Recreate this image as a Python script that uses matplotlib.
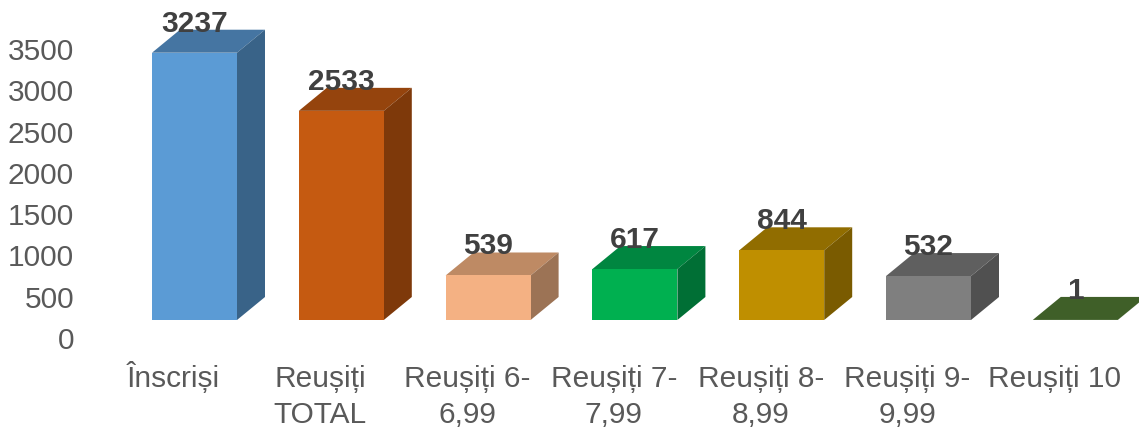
import matplotlib
matplotlib.use("Agg")
import matplotlib.pyplot as plt
from matplotlib.patches import Polygon
from matplotlib.transforms import Affine2D

plt.rcParams['font.family'] = ['Liberation Sans', 'DejaVu Sans']

categories = ["Înscriși", "Reușiți\nTOTAL", "Reușiți 6-\n6,99", "Reușiți 7-\n7,99",
              "Reușiți 8-\n8,99", "Reușiți 9-\n9,99", "Reușiți 10"]
values = [3237, 2533, 539, 617, 844, 532, 1]
yticks = [0, 500, 1000, 1500, 2000, 2500, 3000, 3500]

front_colors = ["#5B9BD5", "#C55A11", "#F4B183", "#00B050", "#BF8F00", "#7F7F7F", "#385723"]
top_colors = ["#4575A2", "#95440D", "#BE8A64", "#008640", "#916D00", "#5F5F5F", "#3F5F28"]
side_colors = ["#396388", "#7E390A", "#9C7355", "#006F35", "#7A5B00", "#505050", "#2F4A1D"]

W, H = 1139, 429
# pixel layout of the plot
left, right, base, top = 120, 1139, 320, 31
pitch = 146.8
first_center = 194.5
bar_w = 85 / pitch
depth_x = 28 / pitch
depth_y = 23 * 3500 / (base - top)
font_size = 21.5

fig = plt.figure(figsize=(W / 100, H / 100), dpi=100)
ax = fig.add_axes([left / W, (H - base) / H, (right - left) / W, (base - top) / H])
ax.set_xlim((left - first_center) / pitch, (right - first_center) / pitch)
ax.set_ylim(0, 3500)
for s in ax.spines.values():
    s.set_visible(False)

xs = list(range(len(values)))
ax.bar(xs, values, width=bar_w, color=front_colors, edgecolor="none", clip_on=False, zorder=3)

for x, v, tc, sc in zip(xs, values, top_colors, side_colors):
    x0 = x - bar_w / 2
    x1 = x + bar_w / 2
    ax.add_patch(Polygon([(x0, v), (x1, v), (x1 + depth_x, v + depth_y), (x0 + depth_x, v + depth_y)],
                         facecolor=tc, edgecolor="none", clip_on=False, zorder=2))
    ax.add_patch(Polygon([(x1, 0), (x1 + depth_x, depth_y), (x1 + depth_x, v + depth_y), (x1, v)],
                         facecolor=sc, edgecolor="none", clip_on=False, zorder=2))
    ax.annotate(str(v), (x, v), xytext=(0, 29 * 0.72), textcoords="offset points",
                ha="center", va="center", fontsize=font_size, fontweight="bold",
                color="#404040", zorder=5, annotation_clip=False)

ax.set_yticks(yticks)
ax.set_yticklabels([str(t) for t in yticks], fontsize=font_size, color="#595959")
ax.set_xticks(xs)
ax.set_xticklabels(categories, fontsize=font_size, color="#595959", linespacing=1.38)
ax.tick_params(axis="y", length=0, pad=46 * 0.72)
ax.tick_params(axis="x", length=0, pad=45 * 0.72)

# labels sit a bit off the bars in the original
for lab in ax.get_yticklabels():
    lab.set_transform(lab.get_transform() + Affine2D().translate(0, -18))
for i, lab in enumerate(ax.get_xticklabels()):
    # the tall I with circumflex pushes the first label down
    up = 4 if i == 0 else 0
    lab.set_transform(lab.get_transform() + Affine2D().translate(-21, up))

fig.savefig("out.png", dpi=100, facecolor="white")
